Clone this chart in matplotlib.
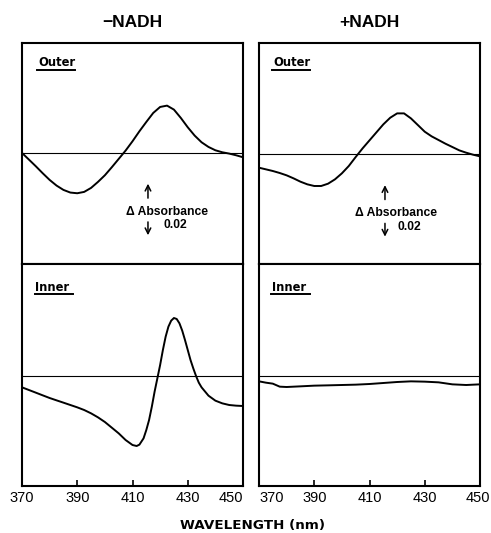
import matplotlib
matplotlib.use("Agg")
import matplotlib.pyplot as plt
from matplotlib.lines import Line2D
from matplotlib import transforms

plt.rcParams['font.family'] = ['Liberation Sans', 'DejaVu Sans']

# ---- data (delta absorbance vs wavelength, nm) ----
wl_lo = [370, 372.5, 375, 377.5, 380, 382.5, 385, 387.5, 390, 392.5, 395, 397.5, 400, 402.5,
         405, 407.5, 410, 412.5, 415, 417.5, 420, 422.5, 425, 427.5, 430, 432.5, 435, 437.5,
         440, 442.5, 445, 447.5, 450]
abs_lo = [0.0, -0.00233, -0.00467, -0.00712, -0.00945, -0.01143, -0.01295, -0.01388, -0.01412,
          -0.01365, -0.01225, -0.01015, -0.00782, -0.00502, -0.0021, 0.00082, 0.00408, 0.00758,
          0.01085, 0.014, 0.0161, 0.01657, 0.01517, 0.01225, 0.00898, 0.00607, 0.00373, 0.0021,
          0.00093, 0.00023, -0.00023, -0.00082, -0.00152]

wl_ro = [370, 372.5, 375, 377.5, 380, 382.5, 385, 387.5, 390, 392.5, 395, 397.5, 400, 402.5,
         405, 407.5, 410, 412.5, 415, 417.5, 420, 422.5, 425, 427.5, 430, 432.5, 435, 437.5,
         440, 442.5, 445, 447.5, 450]
abs_ro = [-0.00467, -0.00525, -0.00583, -0.00653, -0.00735, -0.0084, -0.00957, -0.0105, -0.01108,
          -0.01108, -0.01027, -0.00875, -0.00665, -0.00408, -0.00093, 0.0021, 0.0049, 0.0077,
          0.0105, 0.01283, 0.01435, 0.01435, 0.0126, 0.01027, 0.00793, 0.0063, 0.00502, 0.00373,
          0.00257, 0.0014, 0.00058, -0.00012, -0.0007]

wl_li = [370, 372.5, 375, 377.5, 380, 382.5, 385, 387.5, 390, 392.5, 395, 397.5, 400, 402.5,
         405, 407.5, 410, 411.5, 412.5, 414, 415, 416, 417, 418, 419, 420, 421, 422, 423, 424,
         425, 426, 427, 428, 429, 430, 431, 432, 433, 434, 435, 437.5, 440, 442.5, 445, 447.5, 450]
abs_li = [-0.00397, -0.0049, -0.00583, -0.00677, -0.0077, -0.00852, -0.00933, -0.01015, -0.01097,
          -0.0119, -0.01307, -0.01447, -0.0161, -0.01808, -0.02007, -0.0224, -0.02415, -0.0245,
          -0.02403, -0.02182, -0.0189, -0.0154, -0.01073, -0.00548, -0.00082, 0.00385, 0.0091,
          0.01377, 0.01727, 0.01937, 0.0203, 0.01995, 0.01843, 0.01587, 0.0126, 0.0091, 0.0056,
          0.00268, 0.0, -0.00233, -0.00397, -0.00688, -0.00863, -0.00957, -0.01015, -0.01038,
          -0.0105]

wl_ri = [370, 372.5, 375, 377.5, 380, 385, 390, 395, 400, 405, 410, 415, 420, 425, 430, 435,
         440, 445, 450]
abs_ri = [-0.00187, -0.00233, -0.00268, -0.00373, -0.00385, -0.00362, -0.00338, -0.00327,
          -0.00315, -0.00303, -0.0028, -0.00245, -0.0021, -0.00187, -0.00198, -0.00222,
          -0.00292, -0.00315, -0.00292]

xticks = [370, 390, 410, 430, 450]
col_titles = ["\u2212NADH", "+NADH"]
row_labels = ["Outer", "Inner"]
scale_text = "\u0394 Absorbance"
scale_value = "0.02"

W, H = 491, 533
fig = plt.figure(figsize=(W / 100, H / 100), dpi=100)

def fx(px):
    return px / W

def fy(py):
    return 1 - py / H

lefts = [22, 259]
pw = 221
rows = [(43, 264), (264, 486)]
ylims = [[(-0.0389, 0.0385), (-0.0385, 0.0392)],
         [(-0.0384, 0.0390), (-0.0385, 0.0392)]]
data = [[(wl_lo, abs_lo), (wl_li, abs_li)], [(wl_ro, abs_ro), (wl_ri, abs_ri)]]
label_x = [[0.072, 0.060], [0.063, 0.059]]
TICK_FS = 10.5
PAD = 3.5
DJ = ['DejaVu Sans']

for c in range(2):
    for r in range(2):
        top, bot = rows[r]
        ax = fig.add_axes([fx(lefts[c]), fy(bot), fx(pw), (bot - top) / H])
        x, y = data[c][r]
        ax.plot(x, y, color='black', lw=1.4, solid_capstyle='round', solid_joinstyle='round')
        ax.axhline(0, color='black', lw=0.8)
        ax.set_xlim(370, 450)
        ax.set_ylim(*ylims[c][r])
        ax.set_yticks([])
        for s in ax.spines.values():
            s.set_linewidth(1.5)
        if r == 0:
            ax.set_xticks([])
        else:
            ax.set_xticks(xticks)
            ax.tick_params(axis='x', direction='in', length=4, width=1.2, pad=PAD)
            names = [str(t) for t in xticks]
            if c == 1:
                last = names[-1]
                names[-1] = ''
            labs = ax.set_xticklabels(names, fontsize=TICK_FS)
            if c == 0:
                labs[-1].set_horizontalalignment('right')
            else:
                labs[0].set_horizontalalignment('left')
                tr = transforms.blended_transform_factory(ax.transData, ax.transAxes)
                ax.text(453.6, -(PAD * 100 / 72) / (bot - top), last, transform=tr,
                        fontsize=TICK_FS, ha='right', va='top')
        # row label with underline
        lx = label_x[c][r]
        ly = 0.91 if r == 0 else 0.896
        ax.text(lx, ly, row_labels[r], transform=ax.transAxes, fontsize=8.3,
                fontweight='bold', va='center', ha='left', family=DJ)
        ax.add_line(Line2D([lx - 0.003, lx + 0.17], [ly - 0.03, ly - 0.03],
                           transform=ax.transAxes, color='black', lw=1.4))
        if r == 0:
            ax.annotate('', xy=(415.6, -0.0098), xytext=(415.6, -0.0168),
                        arrowprops=dict(arrowstyle='->', lw=1.1, color='black'))
            ax.annotate('', xy=(415.6, -0.0298), xytext=(415.6, -0.0232),
                        arrowprops=dict(arrowstyle='->', lw=1.1, color='black'))
            tx = 422.4 if c == 0 else 419.6
            ax.text(tx, -0.0206, scale_text, fontsize=8.7, fontweight='bold',
                    ha='center', va='center')
            vx = 425.4 if c == 0 else 424.6
            ax.text(vx, -0.0254, scale_value, fontsize=8.7, fontweight='bold',
                    ha='center', va='center')

for c in range(2):
    fig.text(fx(lefts[c] + pw / 2), fy(22), col_titles[c], fontsize=12.5,
             fontweight='bold', ha='center', va='center')

fig.text(fx(252), fy(526), "WAVELENGTH (nm)", fontsize=9.7, fontweight='bold',
         ha='center', va='center', family=DJ)

fig.savefig("out.png", dpi=100)
